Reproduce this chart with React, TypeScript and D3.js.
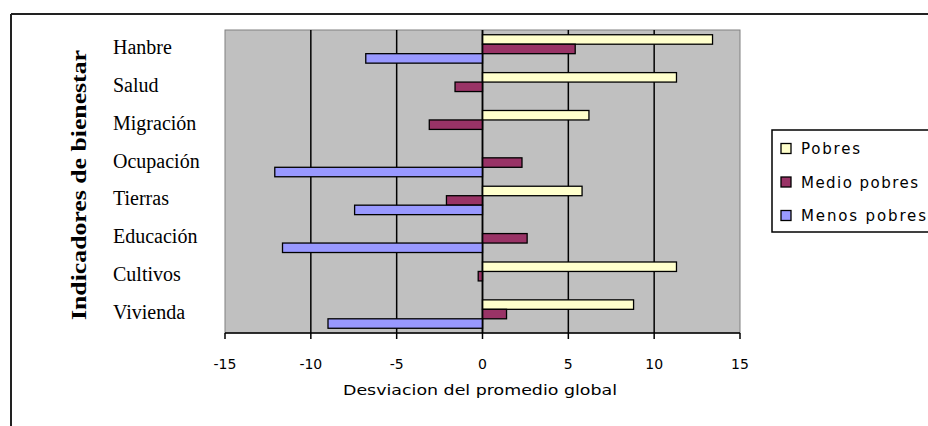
import React from "react";
import * as d3 from "d3";

const categories = ["Hanbre", "Salud", "Migración", "Ocupación", "Tierras", "Educación", "Cultivos", "Vivienda"];
const seriesNames = ["Pobres", "Medio pobres", "Menos pobres"];
const pobres = [13.4, 11.3, 6.2, 0, 5.8, 0, 11.3, 8.8];
const medioPobres = [5.4, -1.6, -3.1, 2.3, -2.1, 2.6, -0.25, 1.4];
const menosPobres = [-6.8, 0, 0, -12.1, -7.45, -11.65, 0, -9.0];
const seriesColors = ["#FFFFCC", "#993366", "#9999FF"];
const xTicks = [-15, -10, -5, 0, 5, 10, 15];
const xTitle = "Desviacion del promedio global";
const yTitle = "Indicadores de bienestar";

export default function App() {
  const W = 928, H = 426;
  const plot = { left: 225, top: 30, right: 740, bottom: 333 };
  const x = d3.scaleLinear().domain([-15, 15]).range([plot.left, plot.right]);
  const y = d3.scaleBand<string>().domain(categories).range([plot.top, plot.bottom]).padding(0);
  const sub = d3.scaleBand<string>().domain(seriesNames).range([0, y.bandwidth()]).paddingInner(0).paddingOuter(0.5);
  const allSeries = [pobres, medioPobres, menosPobres];
  const sans = "'DejaVu Sans', Verdana, sans-serif";
  const serif = "'Liberation Serif', 'Times New Roman', serif";

  return (
    <svg width={W} height={H} style={{ position: "absolute", left: 0, top: 0, background: "#fff" }}>
      {/* outer frame */}
      <line x1={11} y1={14} x2={W} y2={14} stroke="#222" strokeWidth={2} />
      <line x1={11} y1={14} x2={11} y2={H} stroke="#222" strokeWidth={2} />

      {/* plot area */}
      <rect x={plot.left} y={plot.top} width={plot.right - plot.left} height={plot.bottom - plot.top} fill="#C0C0C0" stroke="#808080" strokeWidth={1} />
      {xTicks.filter(t => t !== -15 && t !== 15).map(t => (
        <line key={t} x1={x(t)} x2={x(t)} y1={plot.top} y2={plot.bottom} stroke="#000" strokeWidth={1.5} />
      ))}

      {/* bars */}
      {allSeries.map((vals, si) =>
        vals.map((v, ci) => {
          if (v === 0) return null;
          const y0 = (y(categories[ci]) as number) + (sub(seriesNames[si]) as number);
          const x0 = Math.min(x(0), x(v));
          const w = Math.abs(x(v) - x(0));
          return (
            <rect key={`${si}-${ci}`} x={x0} y={y0} width={w} height={sub.bandwidth()} fill={seriesColors[si]} stroke="#000" strokeWidth={1.3} />
          );
        })
      )}
      <line x1={x(0)} x2={x(0)} y1={plot.top} y2={plot.bottom} stroke="#000" strokeWidth={1.5} />

      {/* x axis */}
      <line x1={plot.left} x2={plot.right} y1={plot.bottom} y2={plot.bottom} stroke="#000" strokeWidth={1.5} />
      {xTicks.map(t => (
        <g key={t}>
          <line x1={x(t)} x2={x(t)} y1={plot.bottom} y2={plot.bottom + 6} stroke="#000" strokeWidth={1.5} />
          <text x={x(t)} y={369} textAnchor="middle" fontFamily={sans} fontSize={14} fill="#000">{t}</text>
        </g>
      ))}
      <text x={480} y={395} textAnchor="middle" fontFamily={sans} fontSize={14} textLength={274} lengthAdjust="spacingAndGlyphs" fill="#000">{xTitle}</text>

      {/* category labels */}
      {categories.map(c => (
        <text key={c} x={113} y={(y(c) as number) + y.bandwidth() / 2 + 5} fontFamily={serif} fontSize={20} fill="#000">{c}</text>
      ))}
      <text transform={`translate(86,185) rotate(-90)`} textAnchor="middle" fontFamily={serif} fontWeight="bold" fontSize={22} textLength={270} lengthAdjust="spacingAndGlyphs" fill="#000">{yTitle}</text>

      {/* legend */}
      <rect x={772} y={130} width={W - 772 + 2} height={102} fill="#fff" stroke="#000" strokeWidth={1.5} />
      {seriesNames.map((s, i) => {
        const cy = 148.5 + i * 33.5;
        const widths = [59, 117, 125];
        return (
          <g key={s}>
            <rect x={781} y={cy - 5} width={10} height={10} fill={seriesColors[i]} stroke="#000" strokeWidth={1.3} />
            <text x={801} y={cy + 5.5} fontFamily={sans} fontSize={15} textLength={widths[i]} lengthAdjust="spacing" fill="#000">{s}</text>
          </g>
        );
      })}
    </svg>
  );
}
